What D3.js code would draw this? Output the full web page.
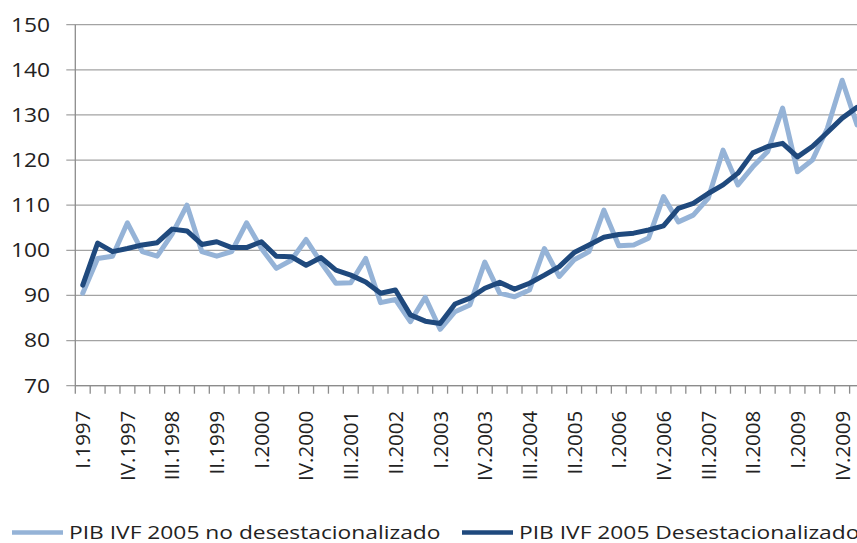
<!DOCTYPE html>
<html>
<head>
<meta charset="utf-8">
<script src="https://cdn.jsdelivr.net/npm/d3@7"></script>
<style>
  body { margin: 0; background: #fff; }
  svg { display: block; font-family: "Open Sans", sans-serif; }
</style>
</head>
<body>
<div id="vis"></div>
<script>
const WIDTH = 857;
const HEIGHT = 543;

// quarters I.1997 .. I.2010 (the last one has no label, chart is cut on the right)
const quarters = [
  "I.1997","II.1997","III.1997","IV.1997",
  "I.1998","II.1998","III.1998","IV.1998",
  "I.1999","II.1999","III.1999","IV.1999",
  "I.2000","II.2000","III.2000","IV.2000",
  "I.2001","II.2001","III.2001","IV.2001",
  "I.2002","II.2002","III.2002","IV.2002",
  "I.2003","II.2003","III.2003","IV.2003",
  "I.2004","II.2004","III.2004","IV.2004",
  "I.2005","II.2005","III.2005","IV.2005",
  "I.2006","II.2006","III.2006","IV.2006",
  "I.2007","II.2007","III.2007","IV.2007",
  "I.2008","II.2008","III.2008","IV.2008",
  "I.2009","II.2009","III.2009","IV.2009",
  "I.2010"
];

const noDesest = [
  90.5, 98.2, 98.7, 106.1, 99.7, 98.7, 103.6, 110.0, 99.7, 98.7,
  99.7, 106.1, 100.4, 96.0, 97.8, 102.4, 97.3, 92.7, 92.8, 98.2,
  88.4, 89.1, 84.2, 89.6, 82.5, 86.4, 87.9, 97.4, 90.5, 89.7,
  91.2, 100.4, 94.2, 97.9, 99.7, 108.9, 101.0, 101.2, 102.7, 111.9,
  106.3, 107.8, 111.5, 122.2, 114.5, 118.5, 121.9, 131.5, 117.4, 120.0,
  127.0, 137.7, 127.8
];

const desest = [
  92.3, 101.6, 99.7, 100.4, 101.2, 101.7, 104.7, 104.3, 101.3, 101.9,
  100.6, 100.6, 101.9, 98.7, 98.6, 96.7, 98.4, 95.6, 94.5, 93.0,
  90.5, 91.2, 85.7, 84.3, 83.8, 88.1, 89.4, 91.6, 92.9, 91.4,
  92.7, 94.5, 96.4, 99.5, 101.2, 102.9, 103.5, 103.8, 104.5, 105.4,
  109.3, 110.4, 112.6, 114.5, 117.1, 121.6, 123.0, 123.7, 120.7, 123.0,
  126.1, 129.3, 131.7
];

const yTicks = [70, 80, 90, 100, 110, 120, 130, 140, 150];

const seriesNames = ["PIB IVF 2005 no desestacionalizado", "PIB IVF 2005 Desestacionalizado"];
const seriesColors = ["#95b3d7", "#1f497d"];

const plot = { left: 75.3, right: 864.5, top: 24.7, bottom: 385.7 };

const SVG = d3.select("#vis").append("svg").attr("width", WIDTH).attr("height", HEIGHT);

const x = d3.scaleBand().domain(quarters).range([plot.left, plot.right]).padding(0);
const y = d3.scaleLinear().domain([70, 150]).range([plot.bottom, plot.top]);

// gridlines
SVG.append("g")
  .selectAll("line")
  .data(yTicks)
  .join("line")
  .attr("x1", plot.left - 9)
  .attr("x2", WIDTH)
  .attr("y1", d => y(d))
  .attr("y2", d => y(d))
  .attr("stroke", "#a3a3a3")
  .attr("stroke-width", 1.3);

// y axis labels (the source picture is a bit stretched sideways)
const ejeY = d3.axisLeft(y).tickValues(yTicks).tickSize(0).tickPadding(0);
SVG.append("g")
  .attr("transform", "translate(50,0)")
  .call(ejeY)
  .call(g => g.select(".domain").remove())
  .selectAll("text")
  .attr("font-family", "Open Sans, sans-serif")
  .attr("font-size", 20)
  .attr("fill", "#222")
  .attr("transform", "scale(1.14,1)");

// left axis line
SVG.append("line")
  .attr("x1", plot.left).attr("x2", plot.left)
  .attr("y1", plot.top).attr("y2", plot.bottom)
  .attr("stroke", "#8c8c8c").attr("stroke-width", 1.3);

// category tick marks (between categories)
SVG.append("g")
  .selectAll("line")
  .data(quarters.concat([null]))
  .join("line")
  .attr("x1", d => d === null ? plot.right : x(d))
  .attr("x2", d => d === null ? plot.right : x(d))
  .attr("y1", plot.bottom)
  .attr("y2", plot.bottom + 8)
  .attr("stroke", "#8c8c8c")
  .attr("stroke-width", 1.3);

// x labels every 3 quarters
const ejeX = d3.axisBottom(x)
  .tickValues(quarters.filter((d, i) => i % 3 === 0 && i < 52))
  .tickSize(0);
SVG.append("g")
  .attr("transform", "translate(0," + plot.bottom + ")")
  .call(ejeX)
  .call(g => g.select(".domain").remove())
  .selectAll("text")
  .attr("font-family", "Open Sans, sans-serif")
  .attr("font-size", 20.5)
  .attr("fill", "#222")
  .attr("text-anchor", "end")
  .attr("transform", "rotate(-90)")
  .attr("x", -25)
  .attr("y", 0)
  .attr("dy", "0.36em");

// x axis base line
SVG.append("line")
  .attr("x1", plot.left).attr("x2", WIDTH)
  .attr("y1", plot.bottom).attr("y2", plot.bottom)
  .attr("stroke", "#8c8c8c").attr("stroke-width", 1.3);

const line = d3.line()
  .x((d, i) => x(quarters[i]) + x.bandwidth() / 2)
  .y(d => y(d));

[noDesest, desest].forEach((serie, k) => {
  SVG.append("path")
    .datum(serie)
    .attr("d", line)
    .attr("fill", "none")
    .attr("stroke", seriesColors[k])
    .attr("stroke-width", 5)
    .attr("stroke-linejoin", "round")
    .attr("stroke-linecap", "round");
});

// legend
const legendX = [12, 462];
const legend = SVG.append("g")
  .selectAll("g")
  .data(seriesNames)
  .join("g")
  .attr("transform", (d, i) => "translate(" + legendX[i] + ",532.5)");
legend.append("line")
  .attr("x1", 0).attr("x2", 51)
  .attr("stroke", (d, i) => seriesColors[i])
  .attr("stroke-width", 4.5);
legend.append("text")
  .attr("transform", "translate(57,0) scale(1.2,1)")
  .attr("dy", "0.35em")
  .attr("font-family", "Open Sans, sans-serif")
  .attr("font-size", 19)
  .attr("fill", "#222")
  .text(d => d);
</script>
</body>
</html>
